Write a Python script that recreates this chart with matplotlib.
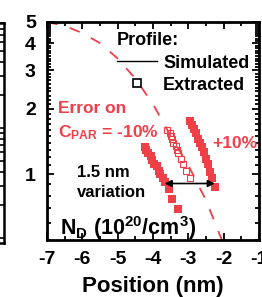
import matplotlib
matplotlib.use('Agg')
import matplotlib.pyplot as plt
import matplotlib.ticker as mt
from matplotlib.lines import Line2D
import numpy as np

plt.rcParams['font.family'] = ['Liberation Sans', 'DejaVu Sans']
plt.rcParams['font.weight'] = 'bold'
plt.rcParams['mathtext.fontset'] = 'custom'
plt.rcParams['mathtext.rm'] = 'Liberation Sans:bold'
plt.rcParams['mathtext.bf'] = 'Liberation Sans:bold'
plt.rcParams['mathtext.it'] = 'Liberation Sans:bold'
plt.rcParams['mathtext.default'] = 'rm'
plt.rcParams['axes.unicode_minus'] = False

RED = '#EF4048'

# ---- data ----
sim_x = [-7.0, -6.5, -6.0, -5.5, -5.0, -4.5, -4.0, -3.5, -3.0, -2.5, -2.05]
sim_y = [5.0, 4.8, 4.45, 4.0, 3.4, 2.75, 2.1, 1.5, 1.1, 0.76, 0.50]

minus_x = [-4.24, -4.19, -4.13, -4.07, -4.02, -3.96, -3.90, -3.84, -3.79,
           -3.73, -3.67, -3.56, -3.45, -3.30]
minus_y = [1.33, 1.29, 1.25, 1.21, 1.17, 1.12, 1.09, 1.04, 1.00,
           0.958, 0.918, 0.861, 0.774, 0.697]

ext_x = [-3.59, -3.53, -3.50, -3.45, -3.42, -3.36, -3.33, -3.28, -3.22,
         -3.16, -3.08, -2.96]
ext_y = [1.59, 1.54, 1.50, 1.45, 1.40, 1.35, 1.30, 1.25, 1.18,
         1.12, 1.04, 0.958]

plus_x = [-2.96, -2.91, -2.85, -2.79, -2.74, -2.68, -2.62, -2.56, -2.51,
          -2.45, -2.39, -2.34, -2.25]
plus_y = [1.75, 1.68, 1.61, 1.54, 1.46, 1.40, 1.33, 1.26, 1.18,
          1.11, 1.03, 0.958, 0.871]

arrow_x = [-3.67, -2.25]
arrow_y = 0.908

x_ticks = [-7, -6, -5, -4, -3, -2, -1]
y_ticks = [1, 2, 3, 4, 5]

W, H = 262, 297
fig = plt.figure(figsize=(W / 100, H / 100), dpi=100)

# fragment of neighbouring panel at the far left
ax0 = fig.add_axes([-0.5, 1 - 243 / H, 0.5 + 4 / W, 220 / H])
ax0.set_yscale('log')
ax0.set_ylim(10 ** -1.045, 10 ** 0.955)
ax0.set_xticks([])
ax0.spines['left'].set_visible(False)
for s in ['right', 'top', 'bottom']:
    ax0.spines[s].set_linewidth(1.8)
ax0.yaxis.tick_right()
ax0.yaxis.set_major_locator(mt.LogLocator(base=10))
ax0.yaxis.set_minor_locator(mt.LogLocator(base=10, subs=np.arange(2, 10)))
ax0.tick_params(axis='y', which='both', direction='in', labelright=False,
                width=1.2)
ax0.tick_params(axis='y', which='major', length=6)
ax0.tick_params(axis='y', which='minor', length=3)

# main axes
ax = fig.add_axes([47 / W, 1 - 240 / H, 212 / W, 218 / H])
ax.set_yscale('log')
ax.plot(sim_x, sim_y, color=RED, lw=1.3, dashes=(6, 7))
ax.plot(minus_x, minus_y, 's', color=RED, ms=6, mew=0)
ax.plot(ext_x, ext_y, 's', mfc='none', mec=RED, ms=5, mew=0.8)
ax.plot(plus_x, plus_y, 's', color=RED, ms=6, mew=0)

ax.annotate('', xy=(arrow_x[1], arrow_y), xytext=(arrow_x[0], arrow_y),
            arrowprops=dict(arrowstyle='<|-|>', color='black', lw=1.2,
                            mutation_scale=10, shrinkA=0, shrinkB=0))

ax.set_xlim(-7, -1)
ax.set_ylim(0.5, 5)
ax.xaxis.set_major_locator(mt.FixedLocator(x_ticks))
ax.xaxis.set_minor_locator(mt.MultipleLocator(0.5))
ax.yaxis.set_major_locator(mt.FixedLocator(y_ticks))
ax.yaxis.set_major_formatter(mt.FixedFormatter([str(v) for v in y_ticks]))
minor_vals = [v for v in np.round(np.arange(0.5, 5.0, 0.1), 2) if v not in y_ticks]
ax.yaxis.set_minor_locator(mt.FixedLocator(minor_vals))
ax.yaxis.set_minor_formatter(mt.NullFormatter())
ax.tick_params(which='both', direction='in', top=True, right=True, width=1.3)
ax.tick_params(which='major', length=5)
ax.tick_params(which='minor', length=3)
ax.tick_params(axis='y', labelsize=14, pad=8)
ax.tick_params(axis='x', labelsize=14, pad=8)
for s in ax.spines.values():
    s.set_linewidth(2)

ax.set_xlabel('Position (nm)', fontsize=16, fontweight='bold', labelpad=6)

handles = [Line2D([], [], color='black', lw=1.0),
           Line2D([], [], marker='s', mfc='none', mec='black', ls='none',
                  ms=6, mew=1.2)]
leg = ax.legend(handles, ['Simulated', 'Extracted'], title='Profile:',
                loc='upper left', bbox_to_anchor=(117 / W, 1 - 32 / H),
                bbox_transform=fig.transFigure, frameon=False,
                fontsize=13, title_fontsize=13, handlelength=2.2,
                handletextpad=0.35, labelspacing=0.28, borderpad=0,
                borderaxespad=0, alignment='left')
leg.get_title().set_fontweight('bold')
leg._legend_box.sep = 4

ax.text(0.052, 0.583, 'Error on', transform=ax.transAxes, color=RED,
        fontsize=12.5, fontweight='bold', va='baseline')
ax.text(0.052, 0.472, r'C$_{\mathregular{PAR}}$ = -10%', transform=ax.transAxes,
        color=RED, fontsize=12.5, fontweight='bold', va='baseline')
ax.text(0.778, 0.422, '+10%', transform=ax.transAxes, color=RED,
        fontsize=12.5, fontweight='bold', va='baseline')
ax.text(0.142, 0.289, '1.5 nm', transform=ax.transAxes, color='black',
        fontsize=12, fontweight='bold', va='baseline')
ax.text(0.142, 0.197, 'variation', transform=ax.transAxes, color='black',
        fontsize=12, fontweight='bold', va='baseline')
ax.text(0.061, 0.023, r'N$_{\mathregular{D}}$ (10$^{\mathregular{20}}$/cm$^{\mathregular{3}}$)',
        transform=ax.transAxes, color='black', fontsize=15.5,
        fontweight='bold', va='baseline')

fig.savefig('out.png', dpi=100)
